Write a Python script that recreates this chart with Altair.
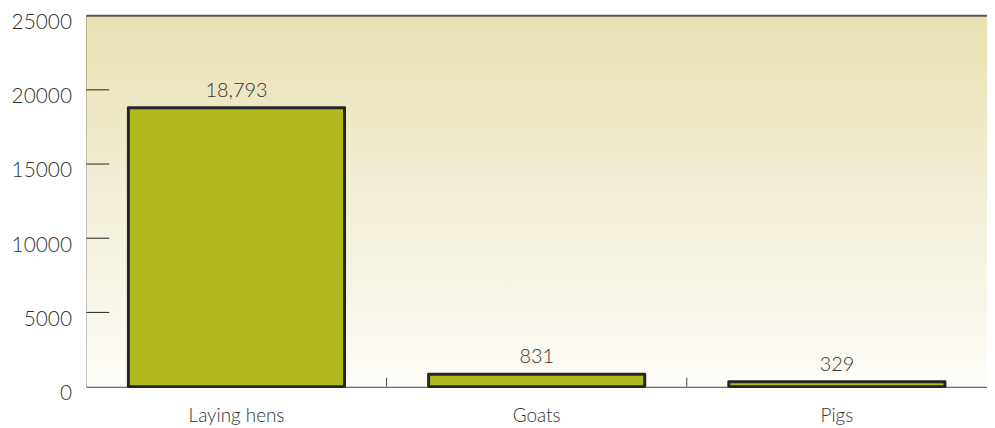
import altair as alt
import pandas as pd

categories = ["Laying hens", "Goats", "Pigs"]
values = [18793, 831, 329]
labels = ["18,793", "831", "329"]
y_ticks = [0, 5000, 10000, 15000, 20000, 25000]

W, H = 908, 374
FONT = "Lato"

df = pd.DataFrame({"cat": categories, "val": values, "label": labels})
tick_df = pd.DataFrame({"cat": categories[1:]})
ytick_df = pd.DataFrame({"v": y_ticks[1:-1]})
bg_df = pd.DataFrame({"lo": [y_ticks[0]], "hi": [y_ticks[-1]]})

xscale = alt.Scale(domain=categories, paddingInner=0, paddingOuter=0)
yscale = alt.Scale(domain=[0, 25000], nice=False)

x_enc = alt.X("cat:N", scale=xscale, sort=categories, title=None,
              axis=alt.Axis(labelAngle=0, ticks=False, tickSize=0, domainColor="#111",
                            labelFontSize=19, labelColor="#333", labelFont=FONT,
                            labelFontWeight=300, labelPadding=20))
y_enc = alt.Y("val:Q", scale=yscale, title=None,
              axis=alt.Axis(values=y_ticks, format="d", ticks=False, tickSize=0, grid=False,
                            domainColor="#111", labelFontSize=21, labelColor="#333",
                            labelFont=FONT, labelFontWeight=300, labelPadding=15,
                            labelOffset=7))

gradient = alt.LinearGradient(
    gradient="linear", x1=0, y1=0, x2=0, y2=1,
    stops=[alt.GradientStop(offset=0, color="#e8e0b0"),
           alt.GradientStop(offset=0.5, color="#f3efd9"),
           alt.GradientStop(offset=1, color="#fdfcf7")])

bg = alt.Chart(bg_df).mark_rect(color=gradient).encode(
    x=alt.value(0), x2=alt.value(W),
    y=alt.Y("hi:Q", scale=yscale), y2="lo:Q")

bars = alt.Chart(df).mark_bar(
    width={"band": 0.72}, color="#b0ba1f", stroke="#262626", strokeWidth=3,
    strokeJoin="round"
).encode(x=x_enc, y=y_enc)

text = alt.Chart(df).mark_text(
    baseline="bottom", dy=-7, fontSize=20, fontWeight=300, color="#333", font=FONT
).encode(x=alt.X("cat:N", scale=xscale, sort=categories),
         y=alt.Y("val:Q", scale=yscale), text="label:N")

xticks = alt.Chart(tick_df).mark_rule(color="#444", strokeWidth=1).encode(
    x=alt.X("cat:N", scale=xscale, sort=categories, bandPosition=0),
    y=alt.value(H - 9), y2=alt.value(H))

yticks = alt.Chart(ytick_df).mark_rule(color="#222", strokeWidth=1).encode(
    y=alt.Y("v:Q", scale=yscale), x=alt.value(0), x2=alt.value(23))

top = alt.Chart(pd.DataFrame({"v": [25000]})).mark_rule(color="#555", strokeWidth=2).encode(
    y=alt.Y("v:Q", scale=yscale))

chart = alt.layer(bg, bars, text, xticks, yticks, top).properties(
    width=W, height=H,
    autosize=alt.AutoSizeParams(type="none"),
    padding={"left": 79, "top": 6, "right": 0, "bottom": 38},
).configure_view(stroke=None)

chart.save("out.html", embed_options={"renderer": "svg", "actions": False})
